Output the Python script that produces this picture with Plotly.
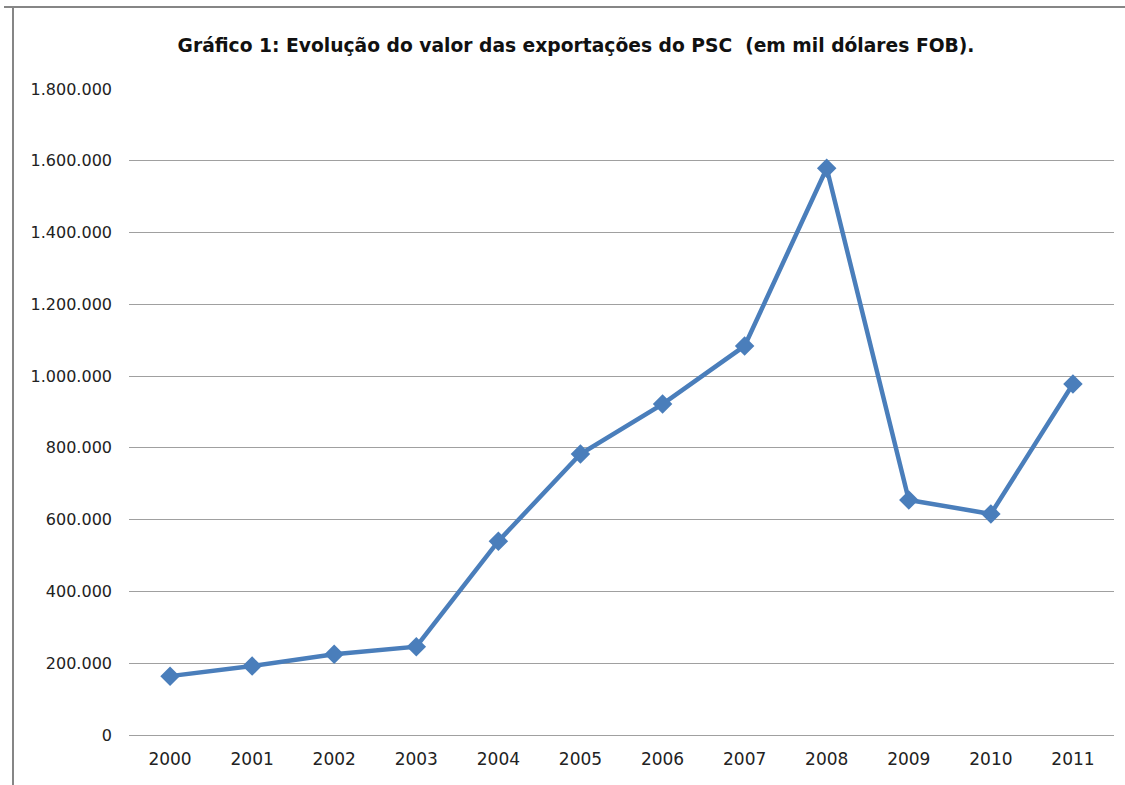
import plotly.graph_objects as go

years = ["2000", "2001", "2002", "2003", "2004", "2005", "2006", "2007", "2008", "2009", "2010", "2011"]
exports = [164000, 192000, 225000, 246000, 540000, 783000, 922000, 1084000, 1579000, 655000, 616000, 978000]
y_ticks = [0, 200000, 400000, 600000, 800000, 1000000, 1200000, 1400000, 1600000, 1800000]
y_labels = ["0", "200.000", "400.000", "600.000", "800.000", "1.000.000", "1.200.000", "1.400.000", "1.600.000", "1.800.000"]
title = "Gráfico 1: Evolução do valor das exportações do PSC  (em mil dólares FOB)."

W, H = 1125, 785
L, R, T, B = 129, 11, 89, 50
pw, ph = W - L - R, H - T - B

def px(x):
    return (x - L) / pw

def py(y):
    return (H - B - y) / ph

fig = go.Figure()
fig.add_trace(go.Scatter(
    x=years, y=exports, mode="lines+markers",
    line=dict(color="#4A7EBB", width=4.5),
    marker=dict(symbol="diamond", size=15, color="#4A7EBB"),
    showlegend=False,
))

font_family = "DejaVu Sans"
fig.update_layout(
    width=W, height=H,
    margin=dict(l=L, r=R, t=T, b=B),
    paper_bgcolor="white", plot_bgcolor="white",
    font=dict(family=font_family, size=16, color="#222222"),
    title=dict(text="<b>" + title + "</b>", x=px(576), xanchor="center", xref="paper",
               y=1 - 45 / H, yanchor="middle",
               font=dict(family=font_family, size=18.7, color="#111111")),
    xaxis=dict(type="category", range=[-0.5, 11.5], showgrid=False, showline=False,
               zeroline=False, ticks="", ticklabelstandoff=12,
               tickfont=dict(size=17)),
    yaxis=dict(range=[0, 1800000], tickvals=y_ticks, ticktext=y_labels,
               showgrid=True, gridcolor="#A0A0A0", gridwidth=1,
               zeroline=True, zerolinecolor="#A0A0A0", zerolinewidth=1,
               showline=False, ticks="", ticklabelstandoff=16,
               tickfont=dict(size=16)),
    shapes=[
        dict(type="line", xref="paper", yref="paper", x0=px(4), x1=px(1125), y0=py(7), y1=py(7),
             line=dict(color="#868686", width=2)),
        dict(type="line", xref="paper", yref="paper", x0=px(13), x1=px(13), y0=py(6), y1=py(785),
             line=dict(color="#868686", width=2)),
    ],
)
fig.write_html("out.html", config={"displayModeBar": False},
               post_script="document.body.style.margin='0';")
